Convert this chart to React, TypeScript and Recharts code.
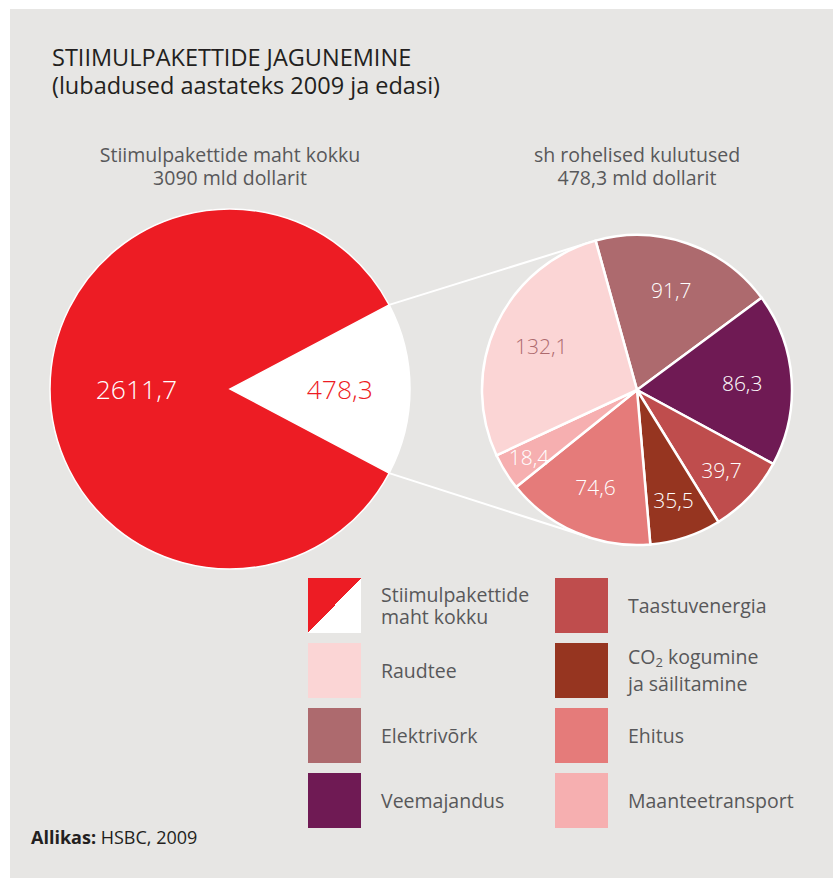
import { PieChart, Pie, Cell } from "recharts"

const totalNames = ["Rohelised kulutused", "Muud kulutused"]
const totalValues = [478.3, 2611.7]

const greenNames = [
  "Elektrivõrk",
  "Veemajandus",
  "Taastuvenergia",
  "CO2 kogumine ja säilitamine",
  "Ehitus",
  "Maanteetransport",
  "Raudtee",
]
const greenValues = [91.7, 86.3, 39.7, 35.5, 74.6, 18.4, 132.1]

const legendLeft = ["Stiimulpakettide maht kokku", "Raudtee", "Elektrivõrk", "Veemajandus"]
const legendRight = ["Taastuvenergia", "CO2 kogumine ja säilitamine", "Ehitus", "Maanteetransport"]

const RED = "#ed1c24"
const BG = "#e7e6e4"
const TEXT = "#58585a"
const FONT = "'Open Sans', sans-serif"

const colors: Record<string, string> = {
  "Rohelised kulutused": "#ffffff",
  "Muud kulutused": RED,
  Elektrivõrk: "#ad6a6e",
  Veemajandus: "#6f1a54",
  Taastuvenergia: "#bf4d4d",
  "CO2 kogumine ja säilitamine": "#963520",
  Ehitus: "#e57b7a",
  Maanteetransport: "#f6afb0",
  Raudtee: "#fbd5d5",
}

const totalData = totalNames.map((name, i) => ({ name, value: totalValues[i] }))
const greenData = greenNames.map((name, i) => ({ name, value: greenValues[i] }))

const fmt = (v: number) => v.toFixed(1).replace(".", ",")

// geometry
const W = 823
const H = 869
const BIG = { cx: 220, cy: 380, r: 180 }
const SMALL = { cx: 627, cy: 381, r: 155 }
const total = totalValues.reduce((a, b) => a + b, 0)
const half = (totalValues[0] / total) * 180
const SMALL_START = 105.5

const RAD = Math.PI / 180

// tangent point on the small pie seen from (px, py)
function tangent(px: number, py: number, sign: number) {
  const dx = px - SMALL.cx
  const dy = py - SMALL.cy
  const d = Math.sqrt(dx * dx + dy * dy)
  const phi = Math.atan2(dy, dx)
  const a = Math.acos(SMALL.r / d) * sign
  return { x: SMALL.cx + SMALL.r * Math.cos(phi + a), y: SMALL.cy + SMALL.r * Math.sin(phi + a) }
}

const upperP = { x: BIG.cx + BIG.r * Math.cos(half * RAD), y: BIG.cy - BIG.r * Math.sin(half * RAD) }
const lowerP = { x: BIG.cx + BIG.r * Math.cos(-half * RAD), y: BIG.cy - BIG.r * Math.sin(-half * RAD) }
const upperT = tangent(upperP.x, upperP.y, 1)
const lowerT = tangent(lowerP.x, lowerP.y, -1)

const bigLabel = (p: any) => {
  const k = p.index === 0 ? 0.61 : 0.52
  const x = p.cx + p.outerRadius * k * Math.cos(-p.midAngle * RAD)
  const y = p.cy + p.outerRadius * k * Math.sin(-p.midAngle * RAD)
  return (
    <text x={x} y={y} textAnchor="middle" dominantBaseline="central" fill={p.index === 0 ? RED : "#fff"}
      fontSize={26.5} fontFamily={FONT} fontWeight={300}>
      {fmt(p.value)}
    </text>
  )
}

const smallLabel = (p: any) => {
  const k = p.value < 25 ? 0.82 : p.value < 50 ? 0.75 : 0.68
  const x = p.cx + p.outerRadius * k * Math.cos(-p.midAngle * RAD)
  const y = p.cy + p.outerRadius * k * Math.sin(-p.midAngle * RAD)
  const dark = p.name === "Raudtee"
  return (
    <text x={x} y={y} textAnchor="middle" dominantBaseline="central" fill={dark ? "#ad6a6e" : "#fff"}
      fontSize={21} fontFamily={FONT} fontWeight={300}>
      {fmt(p.value)}
    </text>
  )
}

function LegendText({ name }: { name: string }) {
  if (name === "Stiimulpakettide maht kokku")
    return <span>Stiimulpakettide<br />maht kokku</span>
  if (name === "CO2 kogumine ja säilitamine")
    return <span>CO<sub style={{ fontSize: 13, verticalAlign: -3 }}>2</sub> kogumine<br />ja säilitamine</span>
  return <span>{name}</span>
}

function Swatch({ name }: { name: string }) {
  const bg =
    name === "Stiimulpakettide maht kokku"
      ? `linear-gradient(to bottom right, ${RED} 50%, #fff 50%)`
      : colors[name]
  return <div style={{ width: 53, height: 55, background: bg, flexShrink: 0 }} />
}

function LegendColumn({ items, left }: { items: string[]; left: number }) {
  return (
    <div style={{ position: "absolute", left, top: 569 }}>
      {items.map((n) => (
        <div key={n} style={{ display: "flex", alignItems: "center", height: 55, marginBottom: 10 }}>
          <Swatch name={n} />
          <div style={{ marginLeft: 20, fontSize: 19.5, lineHeight: "22px", color: TEXT }}>
            <LegendText name={n} />
          </div>
        </div>
      ))}
    </div>
  )
}

export default function App() {
  return (
    <div style={{ position: "absolute", left: 0, top: 0, width: 833, height: 878, background: "#fff", fontFamily: FONT }}>
      <div style={{ position: "absolute", left: 10, top: 9, width: W, height: H, background: BG }}>
        <div style={{ position: "absolute", left: 42, top: 34, fontSize: 23.5, lineHeight: "28px", color: "#231f20" }}>
          STIIMULPAKETTIDE JAGUNEMINE
          <br />
          (lubadused aastateks 2009 ja edasi)
        </div>
        <div style={{ position: "absolute", left: BIG.cx - 200, width: 400, top: 134, textAlign: "center", fontSize: 19.5, lineHeight: "23px", color: TEXT }}>
          Stiimulpakettide maht kokku
          <br />
          3090 mld dollarit
        </div>
        <div style={{ position: "absolute", left: SMALL.cx - 200, width: 400, top: 134, textAlign: "center", fontSize: 19.5, lineHeight: "23px", color: TEXT }}>
          sh rohelised kulutused
          <br />
          478,3 mld dollarit
        </div>

        <div style={{ position: "absolute", left: 0, top: 0 }}>
          <PieChart width={W} height={H} margin={{ top: 0, right: 0, bottom: 0, left: 0 }}>
            <line x1={upperP.x} y1={upperP.y} x2={upperT.x} y2={upperT.y} stroke="#fff" strokeWidth={2} />
            <line x1={lowerP.x} y1={lowerP.y} x2={lowerT.x} y2={lowerT.y} stroke="#fff" strokeWidth={2} />
            <Pie
              data={totalData}
              dataKey="value"
              nameKey="name"
              cx={BIG.cx}
              cy={BIG.cy}
              outerRadius={BIG.r}
              startAngle={half}
              endAngle={half - 360}
              stroke="#fff"
              strokeWidth={1.5}
              label={bigLabel}
              labelLine={false}
              isAnimationActive={false}
            >
              {totalData.map((d) => (
                <Cell key={d.name} fill={colors[d.name]} />
              ))}
            </Pie>
            <Pie
              data={greenData}
              dataKey="value"
              nameKey="name"
              cx={SMALL.cx}
              cy={SMALL.cy}
              outerRadius={SMALL.r}
              startAngle={SMALL_START}
              endAngle={SMALL_START - 360}
              stroke="#fff"
              strokeWidth={2.5}
              label={smallLabel}
              labelLine={false}
              isAnimationActive={false}
            >
              {greenData.map((d) => (
                <Cell key={d.name} fill={colors[d.name]} />
              ))}
            </Pie>
          </PieChart>
        </div>

        <LegendColumn items={legendLeft} left={298} />
        <LegendColumn items={legendRight} left={545} />

        <div style={{ position: "absolute", left: 21, top: 816, fontSize: 18, color: "#231f20" }}>
          <b>Allikas:</b> HSBC, 2009
        </div>
      </div>
    </div>
  )
}
